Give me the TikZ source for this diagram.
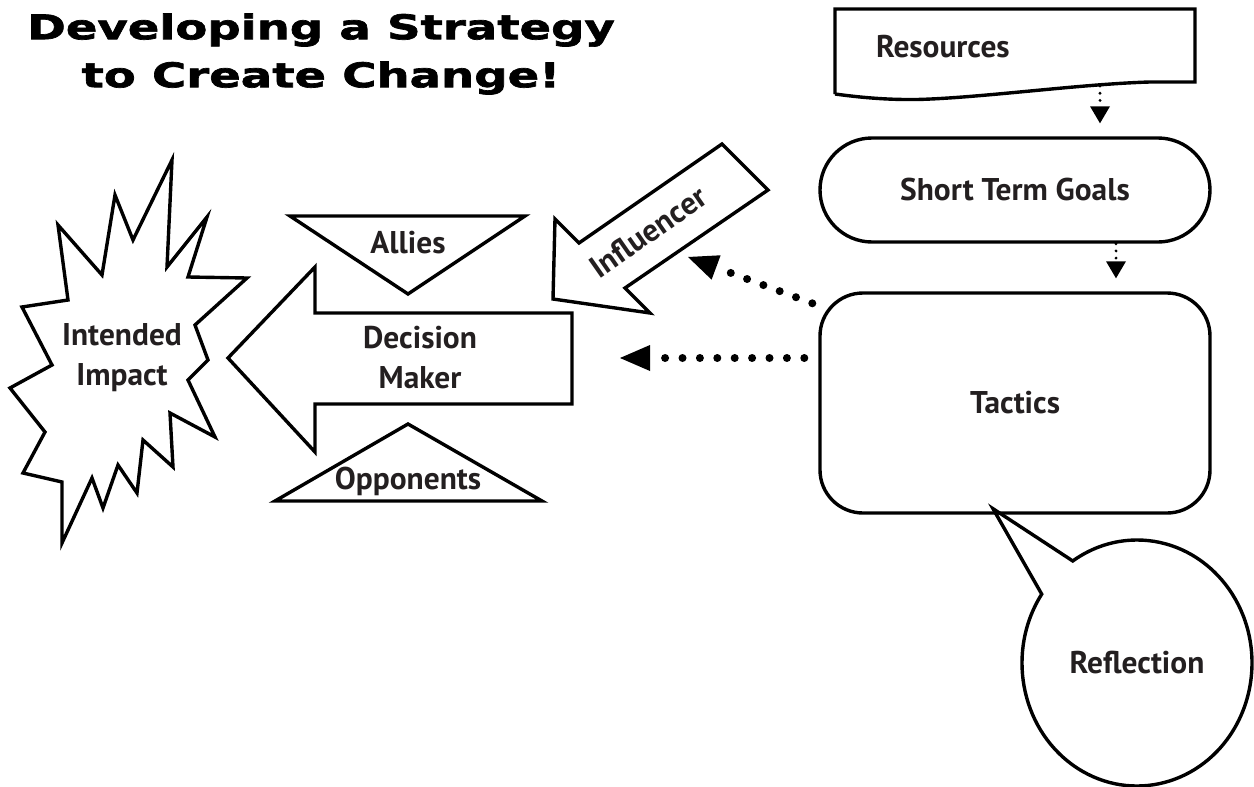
\documentclass[tikz,border=0pt]{standalone}
\usepackage{fontspec}
\setmainfont{PT Sans}
\newfontfamily\titlefont[FakeStretch=1.37,FakeBold=2]{DejaVu Sans}
\usetikzlibrary{arrows.meta,shapes.geometric,shapes.callouts}

\definecolor{inkgray}{HTML}{231F20}

\tikzset{
  outline/.style={draw=black, line width=1.7pt, line join=miter},
  lbl/.style={font=\bfseries\fontsize{15.7}{20}\selectfont, text=inkgray, align=center},
  bigdots/.style={line width=4pt, line cap=round, dash pattern=on 0pt off 8.7pt,
    -{Triangle[length=15pt,width=13pt,line width=0pt]}},
  smalldots/.style={line width=1.6pt, line cap=round, dash pattern=on 0pt off 3.6pt,
    -{Triangle[length=8.5pt,width=10pt,line width=0pt]}}
}

\begin{document}
\begin{tikzpicture}[x=0.5pt, y=-0.5pt]

  \useasboundingbox (0,0) rectangle (1254,787);

  %Title
  \node (title) at (321,54) [font=\titlefont\bfseries\fontsize{17}{24}\selectfont, align=center]
    {Developing a Strategy\\to Create Change!};

  %Burst
  \draw[outline] (172,160) -- (167,267) -- (207,217) -- (188,277) -- (247,278) -- (195,325)
    -- (208,360) -- (188,380) -- (215,437) -- (170,413) -- (173,467) -- (143,440)
    -- (137,493) -- (118,465) -- (103,508) -- (92,478) -- (62,543) -- (62,482)
    -- (23,473) -- (45,432) -- (10,388) -- (52,365) -- (22,307) -- (68,300)
    -- (58,225) -- (102,275) -- (115,195) -- (133,240) -- cycle;
  \node (impact) at (122,358) [lbl] {Intended\\Impact};

  %Big arrow and triangles
  \draw[outline] (228,358) -- (315,267) -- (315,313) -- (572,313) -- (572,404)
    -- (315,404) -- (315,452) -- cycle;
  \coordinate (dmtail) at (572,358);
  \node (decision) at (420,358) [lbl] {Decision\\Maker};

  \draw[outline] (290,216) -- (525,216) -- (408,294) -- cycle;
  \node (allies) at (408,243) [lbl] {Allies};
  \draw[outline] (275,501) -- (542,501) -- (408,424) -- cycle;
  \node (opponents) at (408,481) [lbl] {Opponents};

  %Slanted arrow
  \draw[outline] (650,313) -- (625,288) -- (768,190) -- (722,144) -- (579,243)
    -- (555,219) -- (553,299) -- cycle;
  \node (influencer) at (648,232) [lbl, rotate=35] {Influencer};

  %Right column
  \draw[outline] (835,94) -- (835,9) -- (1195,9) -- (1195,82) -- (1150,82)
    .. controls (1080,84) and (980,98) .. (917,99.5)
    .. controls (880,100) and (850,96) .. (835,94);
  \coordinate (resfoot) at (1100,86);
  \node (res) at (869,47) [lbl, anchor=west] {Resources};

  \node (goals) at (1015,190) [outline, lbl, rounded corners=26pt, minimum width=195pt,
    minimum height=52pt] {Short Term Goals};
  \node (tactics) at (1015,403) [outline, lbl, rounded corners=21.5pt, minimum width=195pt,
    minimum height=110pt] {Tactics};

  \node (reflection) at (1137,663) [outline, lbl, ellipse callout, inner sep=0pt,
    minimum width=115pt, minimum height=123pt, callout pointer arc=22,
    callout absolute pointer={([shift={(-22,-6)}]tactics.south)}] {Reflection};

  %Dotted arrows
  \draw[smalldots] (resfoot) -- ([shift={(85,-13)}]goals.north);
  \draw[smalldots] ([shift={(101,0)}]goals.south) -- ([shift={(101,-13)}]tactics.north);
  \draw[bigdots] ([shift={(-6,12)}]tactics.north west) -- ([shift={(40,25)}]influencer.center);
  \draw[bigdots] ([shift={(-14,-45)}]tactics.west) -- ([shift={(48,0)}]dmtail);

\end{tikzpicture}
\end{document}
